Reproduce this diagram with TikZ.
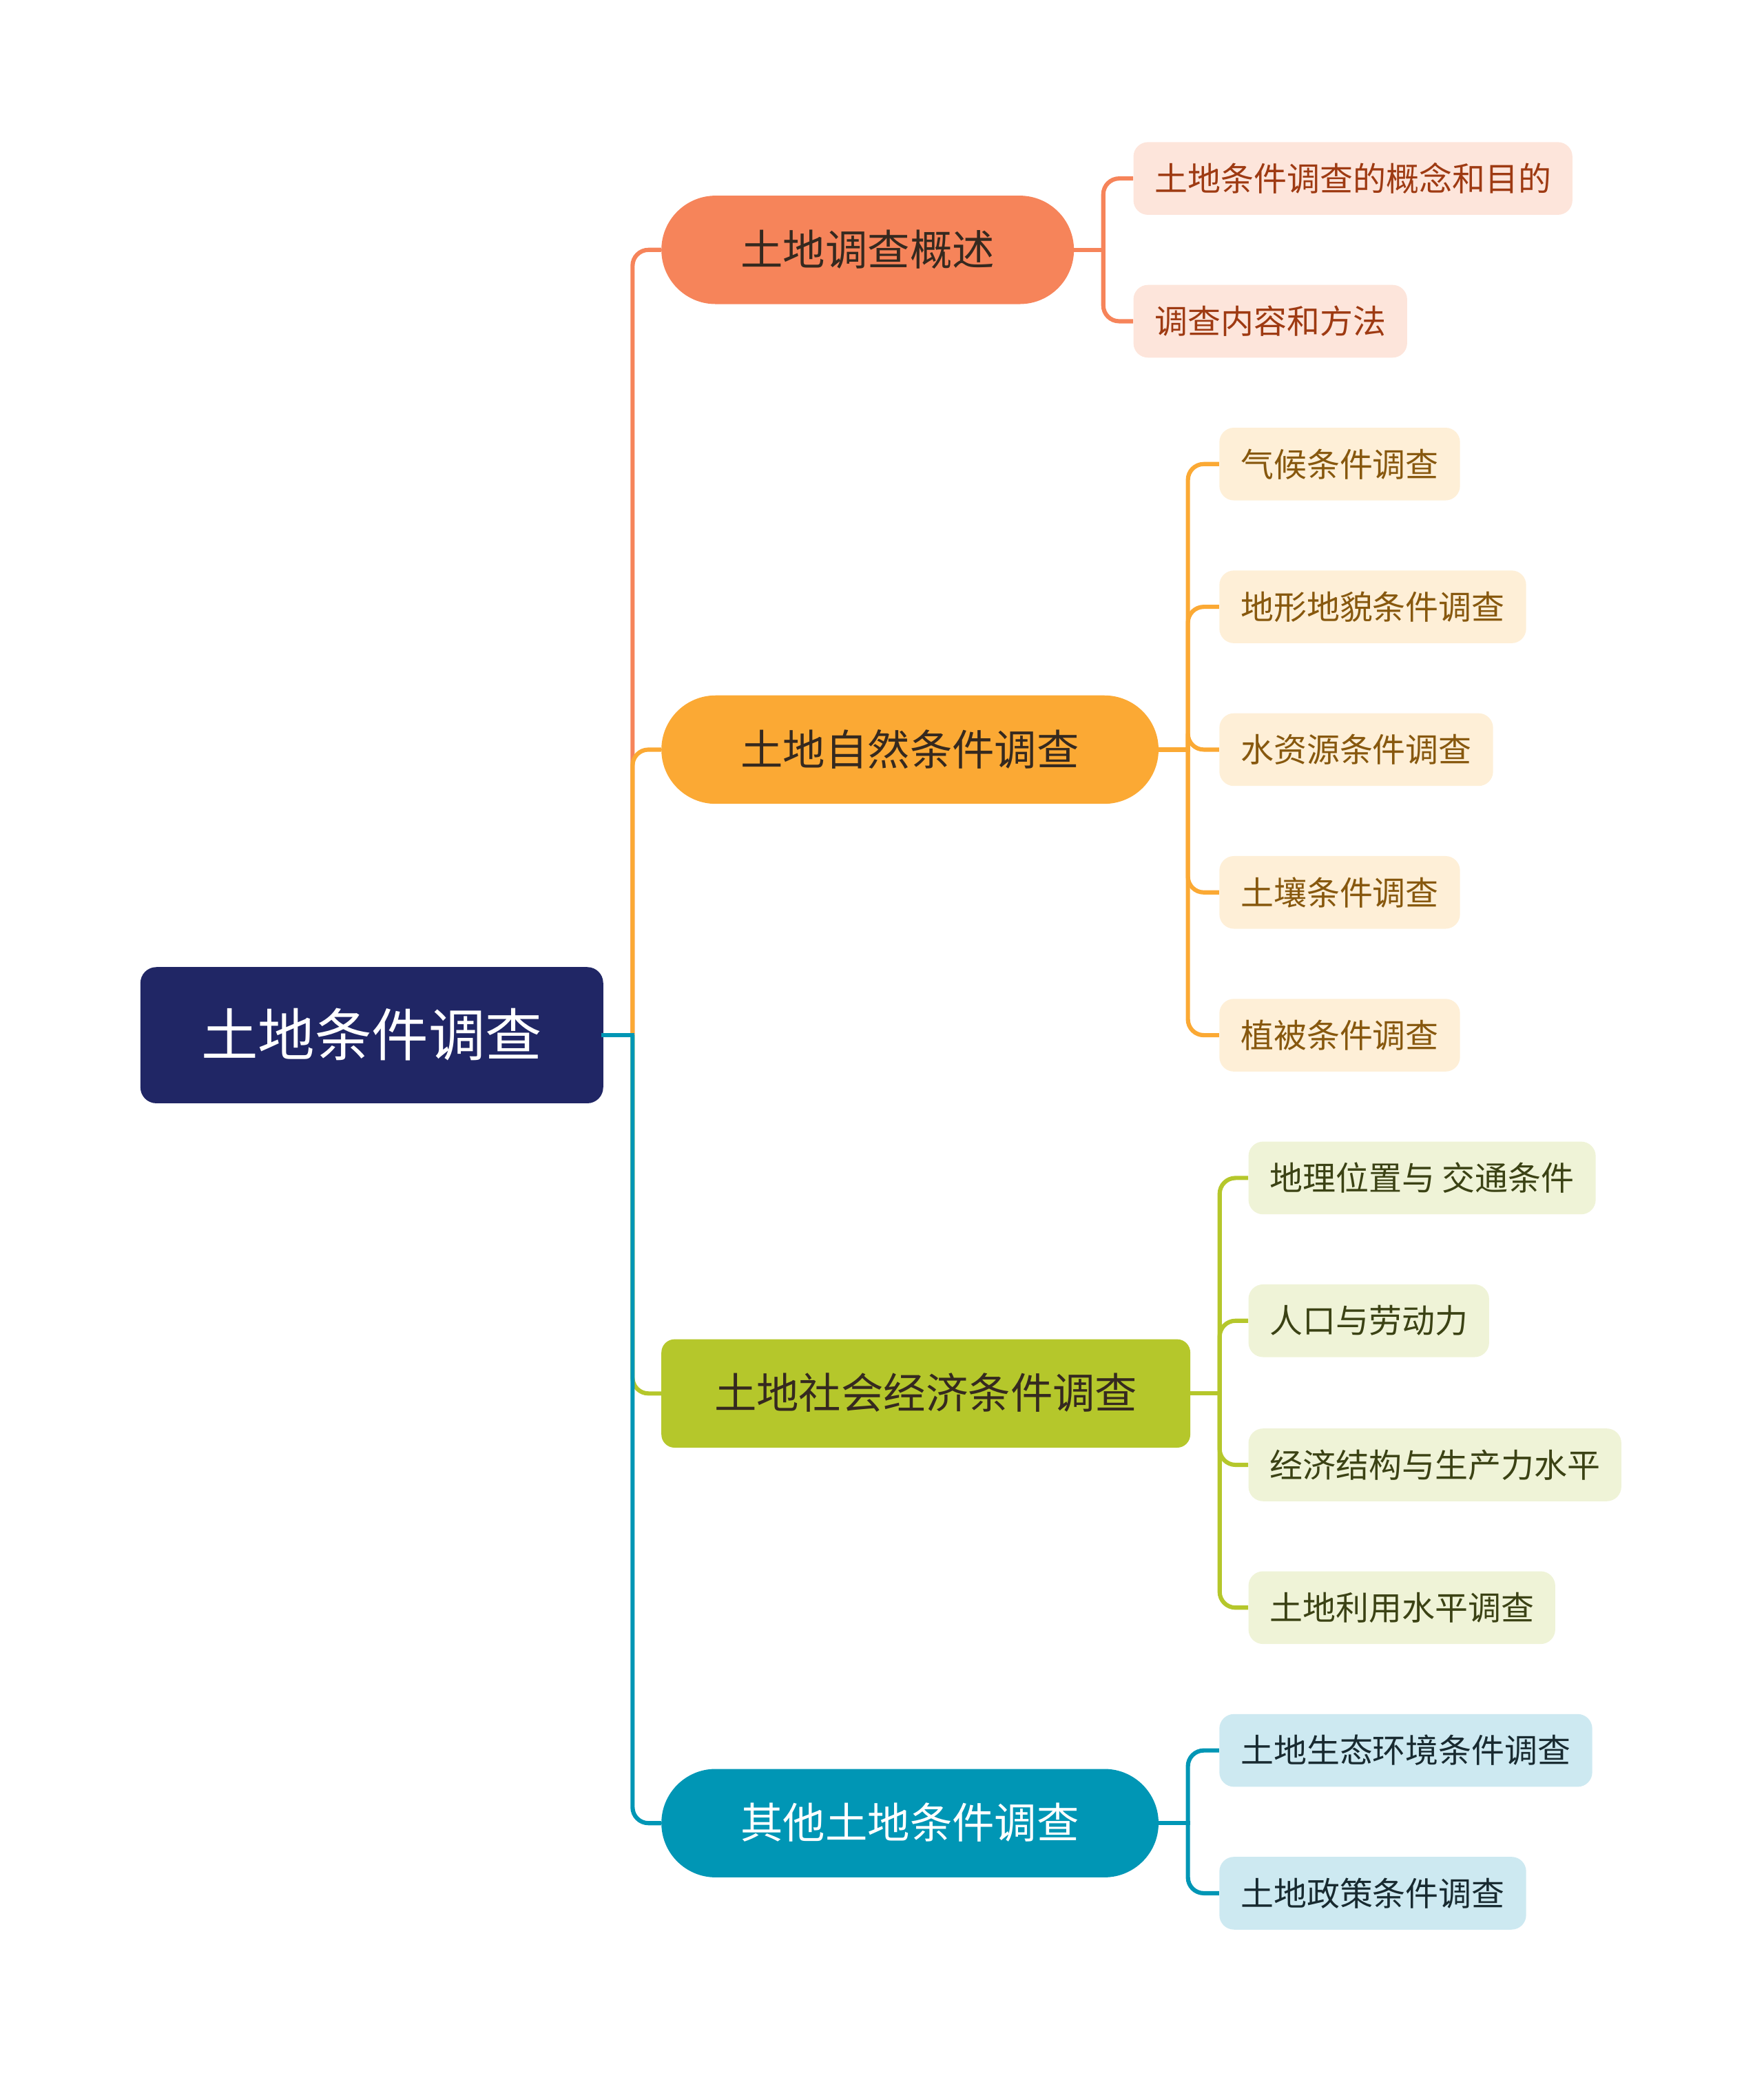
\documentclass[tikz,border=0pt]{standalone}
\usepackage{fontspec}
\newfontfamily\cjk{Noto Sans CJK SC}
\definecolor{rootblue}{HTML}{202665}
\definecolor{cA}{HTML}{F6845A}
\definecolor{cAsub}{HTML}{FDE5DB}
\definecolor{cAtxt}{HTML}{9E3A12}
\definecolor{cB}{HTML}{FBA934}
\definecolor{cBsub}{HTML}{FEEFD7}
\definecolor{cBtxt}{HTML}{87580E}
\definecolor{cC}{HTML}{B5C72B}
\definecolor{cCsub}{HTML}{EFF3D7}
\definecolor{cCtxt}{HTML}{3B4214}
\definecolor{cD}{HTML}{0096B5}
\definecolor{cDsub}{HTML}{CDE9F1}
\definecolor{cDtxt}{HTML}{182A30}
\definecolor{darktxt}{HTML}{35291F}
\begin{document}
\begin{tikzpicture}[x=1pt,y=-1pt,
  rootbox/.style={anchor=west, fill=rootblue, text=white, rounded corners=12pt,
    minimum height=103pt, inner xsep=46pt, inner ysep=0pt,
    font=\cjk\fontsize{43}{50}\selectfont, text height=31.6pt, text depth=0pt},
  topic/.style={anchor=west, rounded corners=41pt, minimum height=82pt,
    inner xsep=60pt, inner ysep=0pt, text=darktxt,
    font=\cjk\fontsize{32}{38}\selectfont, text height=23.5pt, text depth=0pt},
  subbox/.style={anchor=west, rounded corners=11pt, minimum height=55pt,
    inner xsep=16pt, inner ysep=0pt,
    font=\cjk\fontsize{25}{30}\selectfont, text height=19pt, text depth=0pt},
  link/.style={line width=3.2pt, rounded corners=12pt}]
\useasboundingbox (0,0) rectangle (1334,1568);

% root and main topics
\node[rootbox] (root) at (106,783) {土地条件调查};
\node[topic, fill=cA] (t1) at (500,189) {土地调查概述};
\node[topic, fill=cB] (t2) at (500,567) {土地自然条件调查};
\node[topic, fill=cC, rounded corners=10pt, inner xsep=40pt] (t3) at (500,1054) {土地社会经济条件调查};
\node[topic, fill=cD, text=white] (t4) at (500,1379) {其他土地条件调查};

% sub topics
\node[subbox, fill=cAsub, text=cAtxt] (s11) at (857,135) {土地条件调查的概念和目的};
\node[subbox, fill=cAsub, text=cAtxt] (s12) at (857,243) {调查内容和方法};

\node[subbox, fill=cBsub, text=cBtxt] (s21) at (922,351) {气候条件调查};
\node[subbox, fill=cBsub, text=cBtxt] (s22) at (922,459) {地形地貌条件调查};
\node[subbox, fill=cBsub, text=cBtxt] (s23) at (922,567) {水资源条件调查};
\node[subbox, fill=cBsub, text=cBtxt] (s24) at (922,675) {土壤条件调查};
\node[subbox, fill=cBsub, text=cBtxt] (s25) at (922,783) {植被条件调查};

\node[subbox, fill=cCsub, text=cCtxt] (s31) at (944,891) {地理位置与 交通条件};
\node[subbox, fill=cCsub, text=cCtxt] (s32) at (944,999) {人口与劳动力};
\node[subbox, fill=cCsub, text=cCtxt] (s33) at (944,1108) {经济结构与生产力水平};
\node[subbox, fill=cCsub, text=cCtxt] (s34) at (944,1216) {土地利用水平调查};

\node[subbox, fill=cDsub, text=cDtxt] (s41) at (922,1324) {土地生态环境条件调查};
\node[subbox, fill=cDsub, text=cDtxt] (s42) at (922,1432) {土地政策条件调查};

% junctions
\coordinate (j0) at ([xshift=22pt]root.east);
\coordinate (j1) at ([xshift=22pt]t1.east);
\coordinate (j2) at ([xshift=22pt]t2.east);
\coordinate (j3) at ([xshift=22pt]t3.east);
\coordinate (j4) at ([xshift=22pt]t4.east);

% root to topics
\draw[link, cA] (j0) |- (t1.west);
\draw[link, cB] (j0) |- (t2.west);
\draw[link, cC] (j0) |- (t3.west);
\draw[link, cD] (j0) |- (t4.west);
\draw[link, cD, line cap=rect] (root.east) -- (j0);

% topics to sub topics
\draw[link, cA, line cap=rect] (t1.east) -- (j1);
\foreach \s in {s11,s12} \draw[link, cA] (j1) |- (\s.west);
\draw[link, cB, line cap=rect] (t2.east) -- (j2);
\foreach \s in {s21,s22,s23,s24,s25} \draw[link, cB] (j2) |- (\s.west);
\draw[link, cC, line cap=rect] (t3.east) -- (j3);
\foreach \s in {s31,s32,s33,s34} \draw[link, cC] (j3) |- (\s.west);
\draw[link, cD, line cap=rect] (t4.east) -- (j4);
\foreach \s in {s41,s42} \draw[link, cD] (j4) |- (\s.west);
\end{tikzpicture}
\end{document}
